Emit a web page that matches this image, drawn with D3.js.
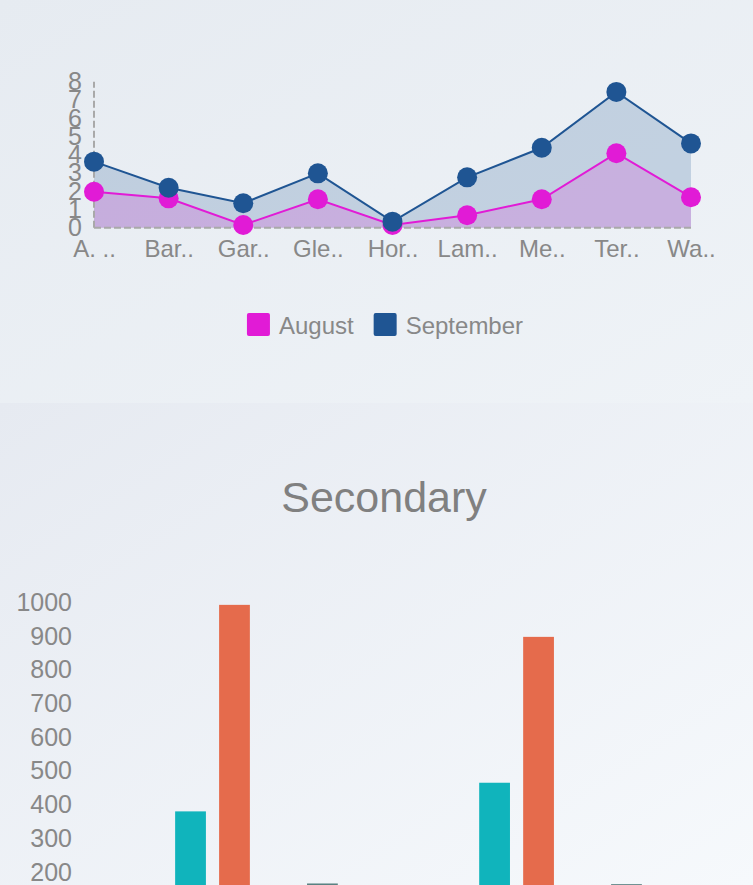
<!DOCTYPE html>
<html>
<head>
<meta charset="utf-8">
<script src="https://cdn.jsdelivr.net/npm/d3@7"></script>
<style>
  html, body { margin: 0; padding: 0; overflow: hidden; background: #eef2f6; }
  svg { display: block; font-family: "Liberation Sans", Arial, Helvetica, sans-serif; }
</style>
</head>
<body>
<div id="chart"></div>
<script>
// top chart data
const categories = ["A. ..", "Bar..", "Gar..", "Gle..", "Hor..", "Lam..", "Me..", "Ter..", "Wa.."];
const august = [1.97, 1.61, 0.15, 1.56, 0.15, 0.68, 1.56, 4.08, 1.67];
const september = [3.62, 2.19, 1.34, 2.98, 0.33, 2.76, 4.38, 7.44, 4.62];
const lineTicks = [0, 1, 2, 3, 4, 5, 6, 7, 8];

// bottom chart data (third series is not visible in the picture)
const barGroups = ["Group 1", "Group 2"];
const barKeys = ["Series 1", "Series 2", "Series 3", "Series 4"];
const series1 = [380, 465];
const series2 = [993, 898];
const series3 = [null, null];
const series4 = [166, 164];
const barTicks = [100, 200, 300, 400, 500, 600, 700, 800, 900, 1000];
const barTitle = "Secondary";

const width = 753;
const height = 885;
const textColor = "#888";

const svg = d3.select("#chart").append("svg")
    .attr("width", width)
    .attr("height", height)
    .attr("viewBox", [0, 0, width, height]);

// panel backgrounds
const defs = svg.append("defs");
function gradient(id, from, to) {
    const g = defs.append("linearGradient").attr("id", id)
        .attr("x1", "0%").attr("y1", "0%").attr("x2", "100%").attr("y2", "100%");
    g.append("stop").attr("offset", "0%").attr("stop-color", from);
    g.append("stop").attr("offset", "100%").attr("stop-color", to);
}
gradient("bgTop", "#e6ebf1", "#eff3f7");
gradient("bgBottom", "#e6eaf1", "#f6f9fc");

svg.append("rect").attr("x", 0).attr("y", 0).attr("width", width).attr("height", 403).attr("fill", "url(#bgTop)");
svg.append("rect").attr("x", 0).attr("y", 403).attr("width", width).attr("height", height - 403).attr("fill", "url(#bgBottom)");

/* ---------- top: area / line chart ---------- */
const magenta = "#e11bd6";
const blue = "#1f5593";

const x = d3.scalePoint().domain(categories).range([94, 691]);
const y = d3.scaleLinear().domain([0, 8]).range([227.7, 81.7]);

const lineChart = svg.append("g");

const area = d3.area()
    .x((d, i) => x(categories[i]))
    .y0(y(0))
    .y1(d => y(d));
const line = d3.line()
    .x((d, i) => x(categories[i]))
    .y(d => y(d));

lineChart.append("path").attr("d", area(september)).attr("fill", blue).attr("fill-opacity", 0.2);
lineChart.append("path").attr("d", area(august)).attr("fill", magenta).attr("fill-opacity", 0.18);

// dashed axes
lineChart.append("line")
    .attr("x1", x.range()[0]).attr("x2", x.range()[1])
    .attr("y1", y(0)).attr("y2", y(0))
    .attr("stroke", "#a9a9a9").attr("stroke-width", 2).attr("stroke-dasharray", "7,3");
lineChart.append("line")
    .attr("x1", x.range()[0]).attr("x2", x.range()[0])
    .attr("y1", y(0)).attr("y2", y(8))
    .attr("stroke", "#a9a9a9").attr("stroke-width", 2).attr("stroke-dasharray", "7,3");

lineChart.append("path").attr("d", line(august)).attr("fill", "none").attr("stroke", magenta).attr("stroke-width", 2);
lineChart.append("path").attr("d", line(september)).attr("fill", "none").attr("stroke", blue).attr("stroke-width", 2);

lineChart.append("g").selectAll("circle").data(august).join("circle")
    .attr("cx", (d, i) => x(categories[i]))
    .attr("cy", d => y(d))
    .attr("r", 10)
    .attr("fill", magenta);
lineChart.append("g").selectAll("circle").data(september).join("circle")
    .attr("cx", (d, i) => x(categories[i]))
    .attr("cy", d => y(d))
    .attr("r", 10)
    .attr("fill", blue);

// y axis labels (they crowd each other in the original too)
lineChart.append("g")
    .attr("transform", `translate(${x.range()[0]},0)`)
    .call(d3.axisLeft(y).tickValues(lineTicks).tickSize(0).tickPadding(12))
    .call(g => g.select(".domain").remove())
    .call(g => g.selectAll("text")
        .attr("fill", textColor)
        .attr("font-size", "25px")
        .attr("font-family", null));

// x axis labels
lineChart.append("g")
    .attr("transform", `translate(0,${y(0)})`)
    .call(d3.axisBottom(x).tickSize(0).tickPadding(12))
    .call(g => g.select(".domain").remove())
    .call(g => g.selectAll("text")
        .attr("fill", textColor)
        .attr("font-size", "24px")
        .attr("font-family", null));

// legend
const legendItems = [{ name: "August", color: magenta }, { name: "September", color: blue }];
const legend = lineChart.append("g");
let lx = 0;
legendItems.forEach(item => {
    const g = legend.append("g").attr("transform", `translate(${lx},0)`);
    g.append("rect").attr("x", 0).attr("y", -12).attr("width", 23).attr("height", 23)
        .attr("rx", 2).attr("fill", item.color);
    const t = g.append("text").attr("x", 32).attr("y", 9)
        .attr("fill", textColor).attr("font-size", "24px").text(item.name);
    lx += 32 + t.node().getComputedTextLength() + 20;
});
lx -= 20;
legend.attr("transform", `translate(${385 - lx / 2},325)`);

/* ---------- bottom: grouped bar chart ---------- */
svg.append("text")
    .attr("x", 384)
    .attr("y", 512)
    .attr("text-anchor", "middle")
    .attr("fill", "#808080")
    .attr("font-size", "43px")
    .text(barTitle);

const barValues = [series1, series2, series3, series4];
const barColors = ["#10b4bc", "#e56b4c", "#9aa8b4", "#5a8282"];

const x0 = d3.scaleBand().domain(barGroups).range([90, 727]).paddingInner(0.465).paddingOuter(0.28);
const x1 = d3.scaleBand().domain(barKeys).range([0, x0.bandwidth()]).paddingInner(0.3);
const yb = d3.scaleLinear().domain([0, 1000]).range([939.4, 602.5]);

const bars = svg.append("g");
barGroups.forEach((grp, gi) => {
    barKeys.forEach((key, ki) => {
        const v = barValues[ki][gi];
        if (v == null) return;
        bars.append("rect")
            .attr("x", x0(grp) + x1(key))
            .attr("y", yb(v))
            .attr("width", x1.bandwidth())
            .attr("height", yb(0) - yb(v))
            .attr("fill", barColors[ki]);
    });
});

svg.append("g")
    .attr("transform", "translate(72,0)")
    .call(d3.axisLeft(yb).tickValues(barTicks).tickFormat(d3.format("d")).tickSize(0).tickPadding(0))
    .call(g => g.select(".domain").remove())
    .call(g => g.selectAll("text")
        .attr("fill", textColor)
        .attr("font-size", "25px")
        .attr("font-family", null));
</script>
</body>
</html>
